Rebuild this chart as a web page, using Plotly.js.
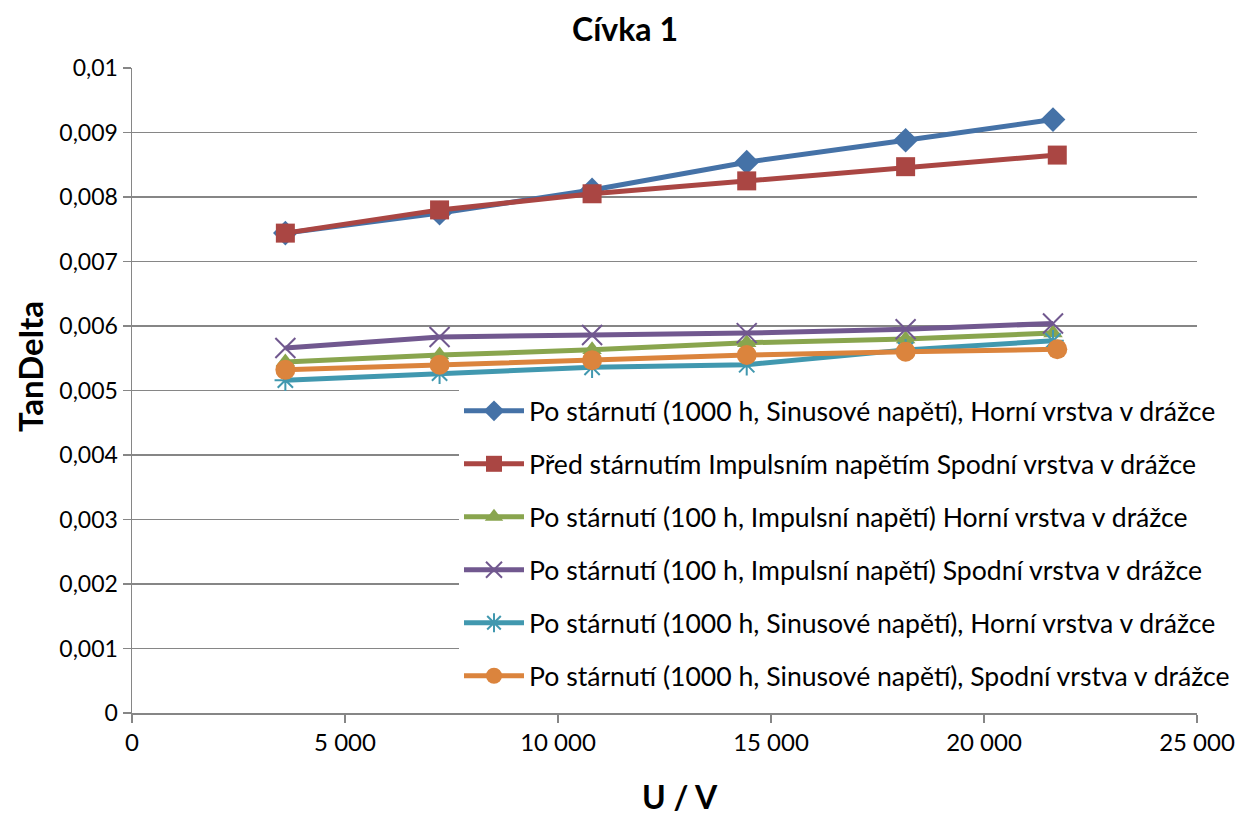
<!DOCTYPE html>
<html>
<head>
<meta charset="utf-8">
<script src="https://cdn.plot.ly/plotly-3.0.1.min.js"></script>
<style>html,body{margin:0;padding:0;background:#fff;}#chart{width:1250px;height:816px;}</style>
</head>
<body>
<div id="chart"></div>
<script>
const seriesNames = [
  "Po stárnutí (1000 h, Sinusové napětí), Horní vrstva v drážce",
  "Před stárnutím Impulsním napětím Spodní vrstva v drážce",
  "Po stárnutí (100 h, Impulsní napětí) Horní vrstva v drážce",
  "Po stárnutí (100 h, Impulsní napětí) Spodní vrstva v drážce",
  "Po stárnutí (1000 h, Sinusové napětí), Horní vrstva v drážce",
  "Po stárnutí (1000 h, Sinusové napětí), Spodní vrstva v drážce"
];
const voltageA = [3600, 7220, 10800, 14430, 18160, 21620];
const voltageB = [3600, 7220, 10800, 14430, 18160, 21720];
const blueVals   = [0.00744, 0.00775, 0.00811, 0.00854, 0.00888, 0.00920];
const redVals    = [0.00744, 0.00780, 0.00805, 0.00825, 0.00847, 0.00865];
const greenVals  = [0.00544, 0.00555, 0.00563, 0.00574, 0.00580, 0.00589];
const purpleVals = [0.00566, 0.00583, 0.00586, 0.00589, 0.00595, 0.00604];
const tealVals   = [0.00516, 0.00527, 0.00536, 0.00540, 0.00563, 0.00577];
const orangeVals = [0.00532, 0.00540, 0.00547, 0.00555, 0.00560, 0.00564];

const xTickVals = [0, 5000, 10000, 15000, 20000, 25000];
const xTickText = ["0", "5 000", "10 000", "15 000", "20 000", "25 000"];
const yTickVals = [0, 0.001, 0.002, 0.003, 0.004, 0.005, 0.006, 0.007, 0.008, 0.009, 0.01];
const yTickText = ["0", "0,001", "0,002", "0,003", "0,004", "0,005", "0,006", "0,007", "0,008", "0,009", "0,01"];
const chartTitle = "Cívka 1";
const xTitle = "U / V";
const yTitle = "TanDelta";

const colors = ["#4572A7", "#AA4643", "#89A54E", "#71588F", "#4198AF", "#DB843D"];
const symbols = ["diamond", "square", "triangle-up", "x-thin-open", "asterisk-open", "circle"];
const sizes = [19, 19, 17, 20, 18, 20];
const xs = [voltageA, voltageB, voltageA, voltageA, voltageA, voltageB];
const ys = [blueVals, redVals, greenVals, purpleVals, tealVals, orangeVals];

const traces = ys.map((y, i) => ({
  type: "scatter",
  mode: "lines+markers",
  x: xs[i],
  y: y,
  name: seriesNames[i],
  legendgroup: "g" + i,
  line: {color: colors[i], width: 5},
  marker: {symbol: symbols[i], size: sizes[i], color: colors[i],
           line: {color: colors[i], width: (i === 3 || i === 4) ? 2 : 0}}
}));

const font = "Lato, 'Open Sans', sans-serif";
const layout = {
  width: 1250, height: 816,
  margin: {l: 132, r: 53, t: 68, b: 103, autoexpand: false},
  paper_bgcolor: "#fff", plot_bgcolor: "#fff",
  font: {family: font, color: "#000"},
  title: {text: "<b>" + chartTitle + "</b>", font: {family: font, size: 32, color: "#000"}, x: 0.5, xanchor: "center", y: 0.963, yanchor: "middle"},
  showlegend: true,
  legend: {
    xref: "container", yref: "container",
    x: 0.3672, xanchor: "left", y: 0.5257, yanchor: "top",
    bgcolor: "#fff", font: {family: font, size: 26.6, color: "#000"},
    traceorder: "grouped", tracegroupgap: 15.4, itemwidth: 60
  },
  xaxis: {
    range: [0, 25000], tickvals: xTickVals, ticktext: xTickText,
    showgrid: false, zeroline: false, automargin: false,
    showline: true, linecolor: "#868686", linewidth: 1.5,
    ticks: "outside", ticklen: 8, tickcolor: "#868686", tickwidth: 1.5,
    tickfont: {family: font, size: 24, color: "#000"}
  },
  yaxis: {
    range: [0, 0.01], tickvals: yTickVals, ticktext: yTickText,
    showgrid: true, gridcolor: "#868686", gridwidth: 1.5, zeroline: false, automargin: false,
    showline: true, linecolor: "#868686", linewidth: 1.5,
    ticks: "outside", ticklen: 8, tickcolor: "#868686", tickwidth: 1.5,
    tickfont: {family: font, size: 23, color: "#000"}
  },
  annotations: [
    {text: "<b>" + xTitle + "</b>", xref: "paper", yref: "paper", x: 0.5146, y: -0.1295,
     xanchor: "center", yanchor: "middle", showarrow: false, borderpad: 0, font: {family: font, size: 32, color: "#000"}},
    {text: "<b>" + yTitle + "</b>", xref: "paper", yref: "paper", x: -0.0958, y: 0.538,
     xanchor: "center", yanchor: "middle", textangle: -90, showarrow: false, font: {family: font, size: 33, color: "#000"}}
  ]
};

Plotly.newPlot("chart", traces, layout, {displayModeBar: false, staticPlot: true});
</script>
</body>
</html>
